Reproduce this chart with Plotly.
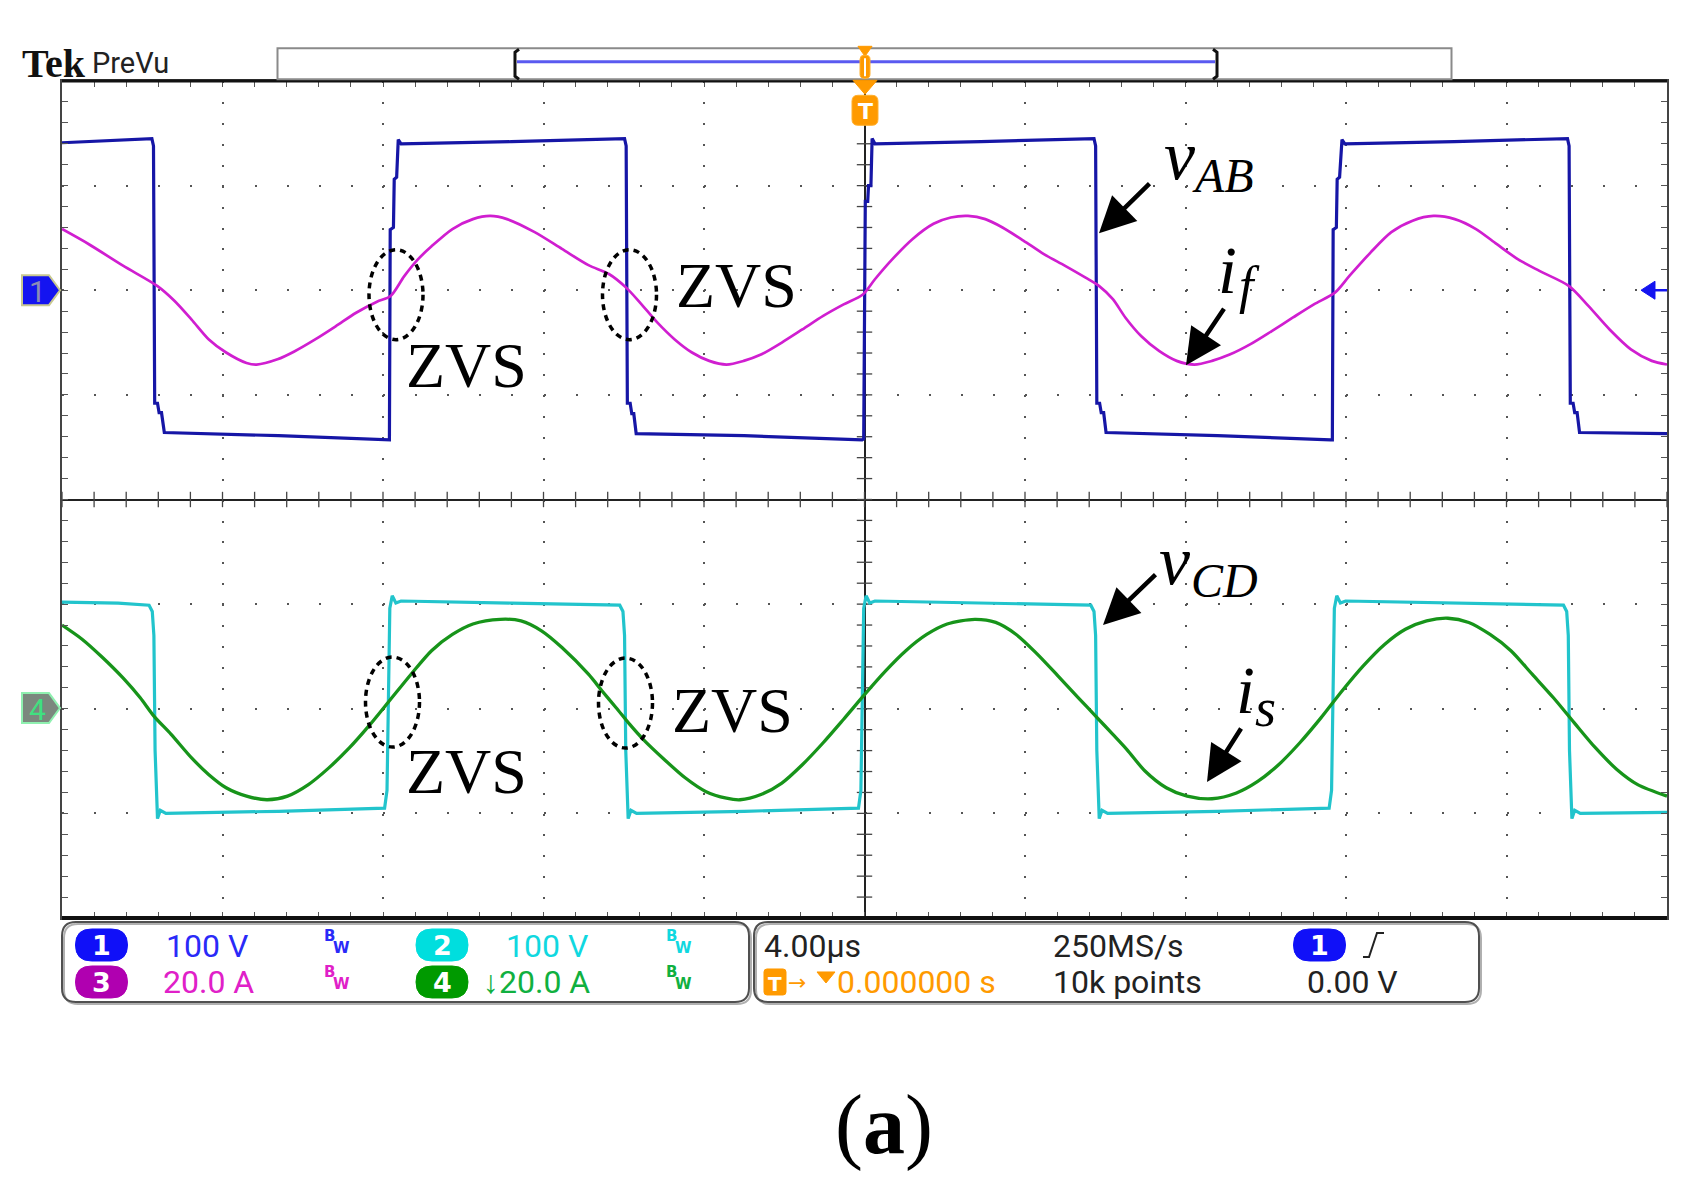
import numpy as np
import plotly.graph_objects as go

# ---------------- data ----------------
# time in microseconds (4 us/div), trigger at t = 0
t_vab = [-20.00, -18.80, -17.76, -17.72, -17.69, -17.62, -17.58, -17.52, -17.45, -14.60,
         -11.88, -11.84, -11.82, -11.74, -11.72, -11.66, -11.62, -11.55, -8.80,
         -5.98, -5.94, -5.91, -5.84, -5.80, -5.75, -5.69, -3.00,
         -0.06, -0.02, 0.02, 0.08, 0.10, 0.16, 0.19, 0.26, 2.90,
         5.72, 5.76, 5.79, 5.86, 5.90, 5.96, 6.02, 8.80,
         11.62, 11.66, 11.68, 11.76, 11.78, 11.84, 11.90, 11.97, 14.70,
         17.52, 17.56, 17.59, 17.66, 17.70, 17.76, 17.82, 20.00]
v_ab = [141, 143, 145, 138, -108, -108, -117, -117, -136, -139,
        -143, -143, 58, 60, 106, 108, 144, 140, 142,
        145, 138, -108, -108, -118, -118, -137, -139,
        -143, -142, 85, 85, 100, 100, 145, 140, 142,
        145, 138, -108, -108, -117, -117, -136, -139,
        -143, -143, 58, 60, 106, 108, 144, 140, 142,
        145, 138, -108, -108, -117, -117, -136, -137]

t_if = [-20.0, -19.33, -18.48, -17.62, -17.20, -16.77, -16.34, -15.91, -15.40, -15.15,
        -14.63, -14.21, -13.69, -13.18, -12.67, -12.15, -11.81, -11.47, -11.13, -10.79,
        -10.27, -9.76, -9.33, -8.91, -8.22, -7.54, -6.88, -6.37, -5.94, -5.59,
        -5.16, -4.73, -4.30, -3.87, -3.44, -3.01, -2.58, -2.06, -1.55, -1.03,
        -0.52, -0.04, 0.26, 0.69, 1.20, 1.72, 2.15, 2.58, 3.01, 3.44,
        3.96, 4.47, 4.99, 5.51, 5.85, 6.19, 6.50, 6.90, 7.34, 7.78,
        8.22, 8.66, 9.10, 9.62, 10.15, 10.68, 11.20, 11.73, 12.08, 12.61,
        13.13, 13.66, 14.18, 14.71, 15.24, 15.76, 16.29, 16.82, 17.56, 18.04,
        18.57, 19.10, 19.62, 20.0]
i_f = [11.7, 8.8, 4.7, 0.8, -2.0, -5.6, -9.4, -11.9, -13.9, -14.2,
       -13.2, -11.7, -9.4, -6.9, -4.3, -2.2, -1.1, 2.7, 5.9, 8.4,
       11.7, 13.6, 14.2, 13.6, 11.1, 7.9, 4.8, 3.1, 0.5, -2.4,
       -6.2, -9.4, -11.9, -13.5, -14.2, -13.5, -12.3, -10.0, -7.5, -4.9,
       -2.7, -0.8, 2.1, 5.9, 9.8, 12.7, 13.9, 14.2, 13.6, 12.0,
       9.5, 6.9, 4.7, 2.4, 0.8, -1.7, -5.2, -8.8, -11.6, -13.5,
       -14.2, -13.5, -12.3, -10.3, -7.8, -5.2, -2.7, -0.4, 2.7, 7.2,
       11.1, 13.3, 14.2, 13.6, 11.7, 8.8, 5.9, 3.7, 0.8, -3.0,
       -7.5, -11.3, -13.5, -14.2]

t_vcd = [-20.00, -18.60, -17.83, -17.75, -17.71, -17.68, -17.62, -17.55, -17.41, -14.60,
         -11.96, -11.90, -11.83, -11.77, -11.68, -11.55, -8.80,
         -6.10, -6.02, -5.98, -5.95, -5.89, -5.82, -5.68, -3.00,
         -0.15, -0.09, -0.02, 0.04, 0.13, 0.26, 2.90,
         5.64, 5.72, 5.76, 5.79, 5.85, 5.92, 6.06, 8.80,
         11.58, 11.64, 11.71, 11.77, 11.86, 11.99, 14.70,
         17.42, 17.50, 17.54, 17.57, 17.63, 17.70, 17.84, 20.00]
v_cd = [102, 101, 99, 93, 70, -40, -105, -97, -100, -98,
        -95, -78, 96, 108, 101, 103, 101,
        99, 93, 70, -40, -105, -97, -100, -98,
        -95, -78, 96, 108, 101, 103, 101,
        99, 93, 70, -40, -105, -97, -100, -98,
        -95, -78, 96, 108, 101, 103, 101,
        99, 93, 70, -40, -105, -97, -100, -99]

t_is = [-20.0, -19.50, -18.99, -18.48, -18.05, -17.71, -17.28, -16.77, -16.34, -15.91,
        -15.40, -14.89, -14.38, -13.86, -13.35, -12.84, -12.32, -11.81, -11.30, -10.79,
        -10.27, -9.76, -9.08, -8.56, -8.05, -7.54, -6.88, -6.54, -6.19, -5.85,
        -5.51, -4.99, -4.47, -3.96, -3.44, -3.10, -2.58, -2.06, -1.55, -1.03,
        -0.52, 0.00, 0.52, 1.03, 1.55, 2.06, 2.75, 3.27, 3.78, 4.30,
        4.82, 5.33, 5.76, 6.19, 6.54, 6.99, 7.52, 8.04, 8.66, 9.27,
        9.80, 10.32, 10.85, 11.38, 11.90, 12.43, 12.96, 13.48, 14.01, 14.54,
        15.06, 15.59, 16.11, 16.64, 17.17, 17.69, 18.22, 18.75, 19.27, 20.0]
i_s = [16.0, 13.3, 9.8, 5.9, 2.1, -1.4, -4.9, -9.4, -12.6, -15.1,
       -16.7, -17.4, -16.7, -14.5, -11.3, -7.5, -3.0, 1.8, 6.6, 11.1,
       14.2, 16.2, 17.1, 16.8, 14.9, 11.7, 6.6, 3.4, 0.2, -3.0,
       -5.9, -9.7, -13.2, -15.8, -17.1, -17.4, -16.4, -14.2, -10.7, -6.5,
       -2.0, 2.7, 7.2, 11.1, 14.2, 16.2, 17.1, 16.5, 14.2, 10.5,
       6.3, 2.1, -1.4, -4.9, -7.8, -11.9, -15.1, -16.7, -17.2, -16.1,
       -13.9, -10.7, -6.5, -1.7, 3.4, 8.2, 12.3, 15.2, 16.8, 17.3,
       16.5, 14.2, 11.1, 6.6, 2.1, -2.7, -7.5, -11.6, -14.5, -16.7]

# channel settings (units per division, vertical position in divisions)
ch_scale = {"vab": 100.0, "if": 20.0, "vcd": 100.0, "is": 20.0}
ch_pos = {"vab": 2.0, "if": 2.0, "vcd": -2.0, "is": -2.0}

# readout texts
readout_row1 = ["100 V", "100 V", "4.00µs", "250MS/s"]
readout_row2 = ["20.0 A", "↓20.0 A", "0.000000 s", "10k points", "0.00 V"]

# ---------------- layout geometry ----------------
W, H = 1699, 1186
L, R, T, B = 62.0, 1667.0, 80.7, 918.0


def px(x):
    return (x - L) / (R - L)


def py(y):
    return (B - y) / (B - T)


def to_div(vals, ch):
    return [v / ch_scale[ch] + ch_pos[ch] for v in vals]


SCOPE_FONT = "Roboto, Liberation Sans Narrow, sans-serif"
SERIF = "Liberation Serif, Times New Roman, serif"

fig = go.Figure()

# center graticule ticks
xt = np.arange(-20, 20.001, 0.8)
yt = np.arange(-4, 4.001, 0.2)
fig.add_trace(go.Scatter(x=xt, y=np.zeros_like(xt), mode="markers", hoverinfo="skip",
                         marker=dict(symbol="line-ns", size=11, line=dict(width=1.3, color="#444"))))
fig.add_trace(go.Scatter(x=np.zeros_like(yt), y=yt, mode="markers", hoverinfo="skip",
                         marker=dict(symbol="line-ew", size=11, line=dict(width=1.3, color="#444"))))

# waveforms
fig.add_trace(go.Scatter(x=t_vab, y=to_div(v_ab, "vab"), mode="lines", hoverinfo="skip",
                         line=dict(color="#1616a6", width=3.2)))
fig.add_trace(go.Scatter(x=t_if, y=to_div(i_f, "if"), mode="lines", hoverinfo="skip",
                         line=dict(color="#d01ed0", width=2.7, shape="spline", smoothing=0.8)))
fig.add_trace(go.Scatter(x=t_vcd, y=to_div(v_cd, "vcd"), mode="lines", hoverinfo="skip",
                         line=dict(color="#22c4cc", width=3.2)))
fig.add_trace(go.Scatter(x=t_is, y=to_div(i_s, "is"), mode="lines", hoverinfo="skip",
                         line=dict(color="#17941a", width=3.3, shape="spline", smoothing=0.8)))

shapes = []
annotations = []


def P(x, y):
    return f"{px(x):.5f},{py(y):.5f}"


def path_shape(pts, fill=None, color="#000", width=1, close=True, layer="above"):
    d = "M" + " L".join(P(x, y) for x, y in pts) + (" Z" if close else "")
    shapes.append(dict(type="path", xref="paper", yref="paper", path=d,
                       fillcolor=fill if fill else "rgba(0,0,0,0)",
                       line=dict(color=color, width=width), layer=layer))


def rect(x0, y0, x1, y1, fill=None, color="#000", width=1, layer="above"):
    shapes.append(dict(type="rect", xref="paper", yref="paper",
                       x0=px(x0), x1=px(x1), y0=py(y1), y1=py(y0),
                       fillcolor=fill if fill else "rgba(0,0,0,0)",
                       line=dict(color=color, width=width), layer=layer))


def line(x0, y0, x1, y1, color="#000", width=1, dash=None, layer="above"):
    shapes.append(dict(type="line", xref="paper", yref="paper",
                       x0=px(x0), x1=px(x1), y0=py(y0), y1=py(y1),
                       line=dict(color=color, width=width, dash=dash), layer=layer))


def rounded(x0, y0, x1, y1, r, fill=None, color="#000", width=1):
    d = (f"M{P(x0 + r, y0)} L{P(x1 - r, y0)} Q{P(x1, y0)} {P(x1, y0 + r)} "
         f"L{P(x1, y1 - r)} Q{P(x1, y1)} {P(x1 - r, y1)} L{P(x0 + r, y1)} "
         f"Q{P(x0, y1)} {P(x0, y1 - r)} L{P(x0, y0 + r)} Q{P(x0, y0)} {P(x0 + r, y0)} Z")
    shapes.append(dict(type="path", xref="paper", yref="paper", path=d,
                       fillcolor=fill if fill else "rgba(0,0,0,0)",
                       line=dict(color=color, width=width), layer="above"))


def text(x, y_base, s, size, color="#000", family=SCOPE_FONT, anchor="left", asc=0.346, **kw):
    annotations.append(dict(xref="paper", yref="paper", x=px(x), y=py(y_base - asc * size),
                            text=s, showarrow=False, xanchor=anchor, yanchor="middle",
                            font=dict(family=family, size=size, color=color), borderpad=0, **kw))


def arrow(tail, tip, width=4.5, size=1.6):
    annotations.append(dict(xref="paper", yref="paper", x=px(tip[0]), y=py(tip[1]),
                            ax=tail[0] - tip[0], ay=tail[1] - tip[1], text="",
                            showarrow=True, arrowhead=2, arrowwidth=width, arrowsize=size,
                            arrowcolor="#000", standoff=0))


# frame: thick top and bottom
line(L, B, R, B, color="#111", width=4)
line(L, T, R, T, color="#111", width=3)

# record view bar
rect(277.5, 48, 1451.5, 79, fill="#ffffff", color="#8a8a8a", width=2)
line(517, 61.5, 1215, 61.5, color="#5a5af0", width=3)
path_shape([(519, 49), (515, 52), (515, 76), (519, 79)], color="#111", width=3, close=False)
path_shape([(1213, 49), (1217, 52), (1217, 76), (1213, 79)], color="#111", width=3, close=False)
# small trigger marker in bar
path_shape([(858, 46), (872, 46), (865, 56)], fill="#ff9a00", color="#ff9a00", width=1)
rounded(860, 55, 870, 78, 4, fill="#ff9a00", color="#ffb030", width=1)
line(865, 58, 865, 76, color="#ffffff", width=2)
# trigger position marker
path_shape([(853, 80), (877, 80), (865, 94)], fill="#ff9a00", color="#ff9a00", width=1)
rounded(852, 95, 878, 125, 6, fill="#ff9a00", color="#ffb030", width=1)
text(865, 119, "<b>T</b>", 22, color="#ffffff", family="DejaVu Sans", anchor="center")

# Tek PreVu
text(21, 77, "<b>Tek</b>", 40, color="#111", family=SERIF, asc=0.3375)
text(91, 73, "PreVu", 29, color="#222")

# channel markers
path_shape([(22, 275), (49, 275), (60, 290), (49, 305), (22, 305)], fill="#1414f0", color="#c8c890", width=2)
text(37, 302, "1", 30, color="#8c8cb4", anchor="center")
path_shape([(22, 693), (49, 693), (60, 708), (49, 723), (22, 723)], fill="#7b887e", color="#8ff0b0", width=2)
text(37, 720, "4", 30, color="#40e080", anchor="center")
# trigger level arrow on the right
path_shape([(1641, 290), (1655, 281), (1655, 299)], fill="#1414f0", color="#1414f0", width=1)
line(1654, 290, 1667, 290, color="#1414f0", width=2.5)

# ZVS ellipses
for cx, cy in [(396, 294.5), (629.5, 294.5), (392.5, 702), (625.5, 703)]:
    shapes.append(dict(type="circle", xref="paper", yref="paper",
                       x0=px(cx - 27), x1=px(cx + 27), y0=py(cy + 45), y1=py(cy - 45),
                       line=dict(color="#000", width=3.5, dash="6px,5px"), layer="above"))

# ZVS labels
for x, yb in [(405, 387), (675, 307), (405, 793), (671, 732)]:
    text(x, yb, "ZVS", 64, family=SERIF, asc=0.3375)

# signal labels
text(1163, 179, "<i>v</i>", 70, family=SERIF, asc=0.3375)
text(1191, 191, "<i>AB</i>", 48, family=SERIF, asc=0.3375)
text(1217, 293, "<i>i</i>", 68, family=SERIF, asc=0.3375)
text(1238, 303, "<i>f</i>", 52, family=SERIF, asc=0.3375)
text(1158, 584, "<i>v</i>", 70, family=SERIF, asc=0.3375)
text(1190, 597, "<i>CD</i>", 48, family=SERIF, asc=0.3375)
text(1235, 713, "<i>i</i>", 68, family=SERIF, asc=0.3375)
text(1254, 726, "<i>s</i>", 54, family=SERIF, asc=0.3375)

# arrows
arrow((1151, 182), (1099, 233))
arrow((1225, 307), (1186, 365))
arrow((1157, 573), (1103, 625))
arrow((1242, 727), (1207, 782))

# readout boxes
for (x0, x1) in [(62, 749), (754, 1479)]:
    rounded(x0 + 2, 924, x1 + 2, 1004, 14, color="#b0b0b0", width=2)
    rounded(x0, 922, x1, 1002, 14, color="#505050", width=2)


def pill(cx, cy, fill, label):
    rounded(cx - 26, cy - 16, cx + 26, cy + 16, 16, fill=fill, color=fill, width=1)
    text(cx, cy + 10, f"<b>{label}</b>", 27, color="#ffffff", family="DejaVu Sans", anchor="center")


pill(101.5, 945, "#1010f8", "1")
pill(442, 945, "#00dede", "2")
pill(101.5, 982, "#b000b0", "3")
pill(442, 982, "#009a00", "4")
pill(1319.5, 945, "#1010f8", "1")


def bw(x, y, color):
    text(x, y + 11, "<b>B</b>", 15, color=color, family="DejaVu Sans")
    text(x + 9, y + 23, "<b>W</b>", 15, color=color, family="DejaVu Sans")


text(165, 957, readout_row1[0], 32, color="#2a2af8")
bw(323, 930, "#2a2af8")
text(505, 957, readout_row1[1], 32, color="#10d8e0")
bw(665, 930, "#10d8e0")
text(162, 993, readout_row2[0], 32, color="#e020c8")
bw(323, 966, "#e020c8")
text(482, 993, readout_row2[1], 32, color="#10b040")
bw(665, 966, "#10b040")

text(763, 957, readout_row1[2], 32, color="#222")
text(1052, 957, readout_row1[3], 32, color="#222")
path_shape([(1363, 957), (1369, 957), (1377, 933), (1384, 933)], color="#222", width=2, close=False)

rounded(764, 969, 786, 995, 3, fill="#ff9a00", color="#ff9a00", width=1)
text(775, 991, "<b>T</b>", 20, color="#ffffff", family="DejaVu Sans", anchor="center")
text(787, 990, "→", 22, color="#ff9a00", family="DejaVu Sans")
path_shape([(817, 972), (835, 972), (826, 983)], fill="#ff9a00", color="#ff9a00", width=1)
text(836, 993, readout_row2[2], 32, color="#ff9a00")
text(1052, 993, readout_row2[3], 32, color="#222")
text(1306, 993, readout_row2[4], 32, color="#222")

# figure label
text(884, 1153, "(<b>a</b>)", 84, family=SERIF, anchor="center", asc=0.3375)

fig.update_layout(
    width=W, height=H,
    margin=dict(l=L, r=W - R, t=T, b=H - B, pad=0),
    paper_bgcolor="#ffffff", plot_bgcolor="#ffffff",
    showlegend=False,
    shapes=shapes, annotations=annotations,
    xaxis=dict(range=[-20, 20], tick0=-20, dtick=4, showticklabels=False,
               ticks="inside", ticklen=6, tickwidth=1, tickcolor="#555",
               minor=dict(dtick=0.8, ticks="inside", ticklen=6, tickwidth=1, tickcolor="#555", showgrid=False),
               showgrid=True, gridcolor="#555", gridwidth=1.8, griddash="2px,18.93px",
               zeroline=True, zerolinecolor="#222", zerolinewidth=1.5,
               showline=True, linecolor="#444", linewidth=2, mirror="allticks",
               fixedrange=True),
    yaxis=dict(range=[-4, 4], tick0=-4, dtick=1, showticklabels=False,
               ticks="inside", ticklen=6, tickwidth=1, tickcolor="#555",
               minor=dict(dtick=0.2, ticks="inside", ticklen=6, tickwidth=1, tickcolor="#555", showgrid=False),
               showgrid=True, gridcolor="#555", gridwidth=1.8, griddash="2px,30.1px",
               zeroline=True, zerolinecolor="#222", zerolinewidth=1.5,
               showline=True, linecolor="#444", linewidth=2, mirror="allticks",
               fixedrange=True),
)

fig.write_html("out.html", config={"displayModeBar": False},
               post_script="document.body.style.margin='0';document.body.style.overflow='hidden';")
